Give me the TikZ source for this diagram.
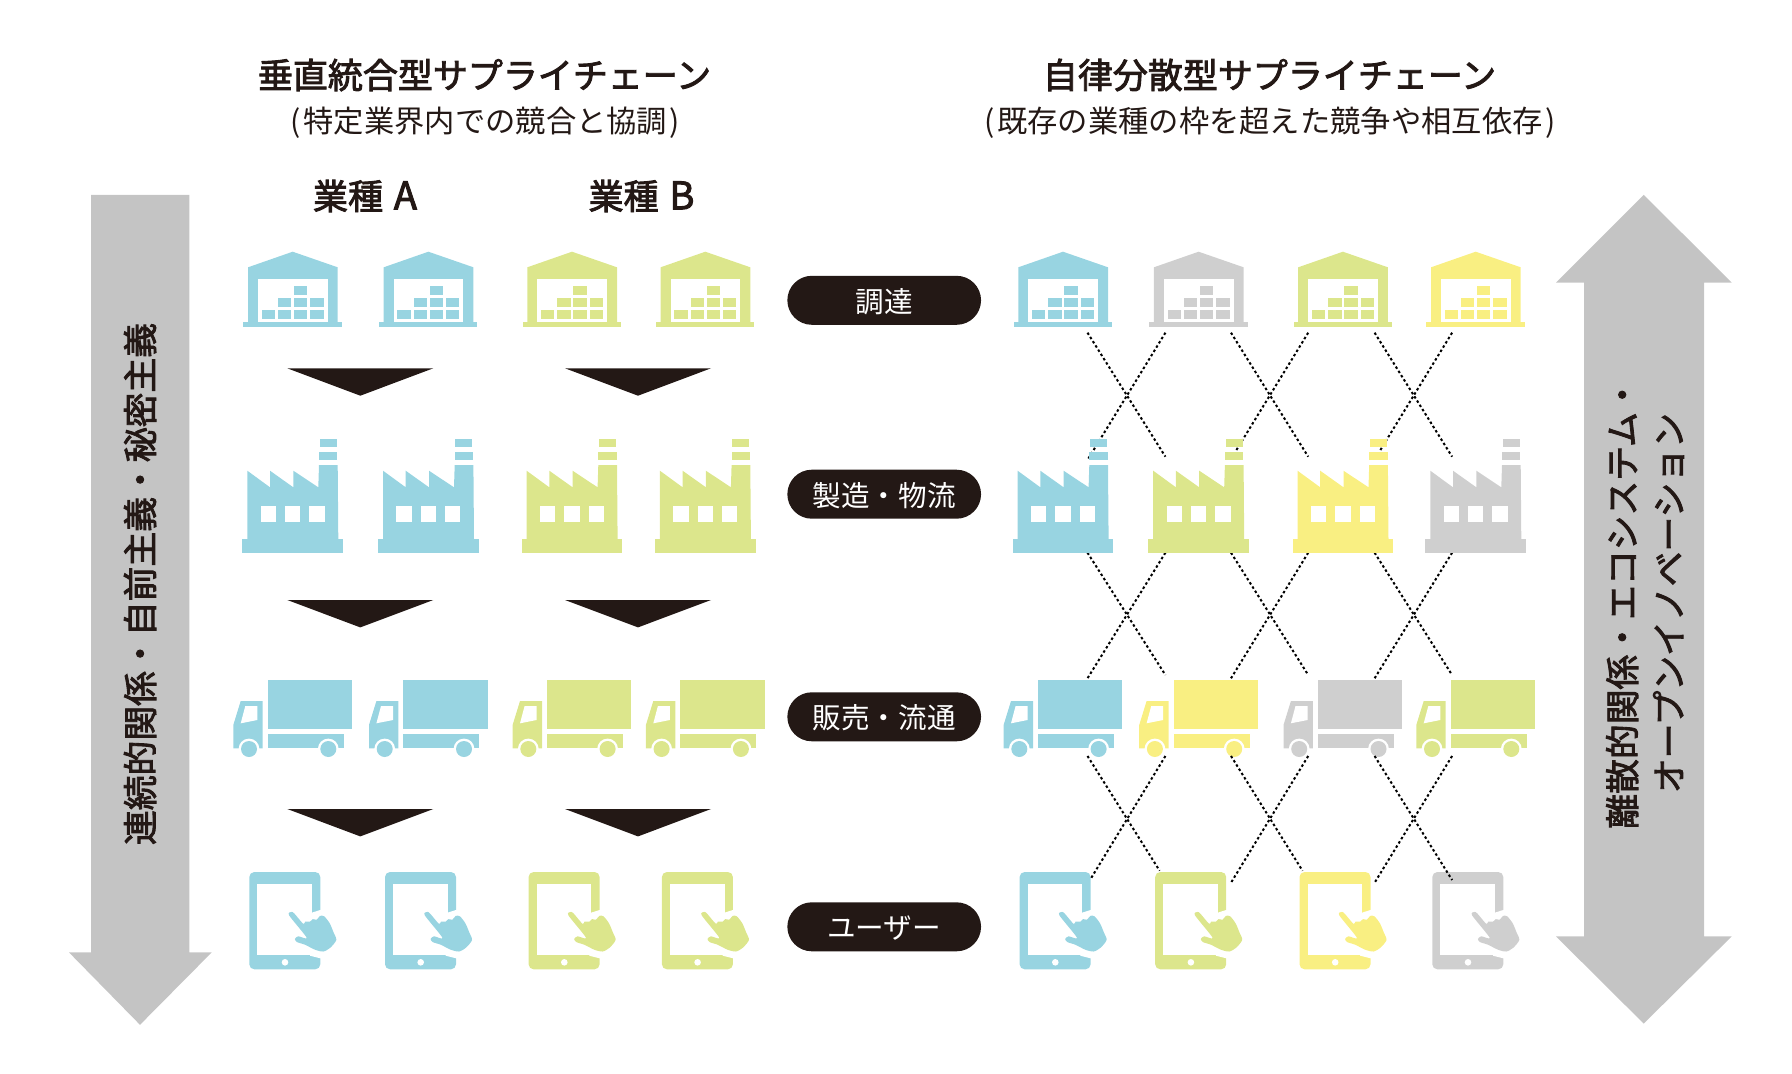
\documentclass[tikz,border=0pt]{standalone}
\usepackage{fontspec}
\setmainfont{Noto Sans CJK JP}
\newfontfamily\cjkmed[FakeBold=2.5]{Noto Sans CJK JP}
\usetikzlibrary{shapes.misc}
\definecolor{iconblue}{HTML}{98D4E1}
\definecolor{icongreen}{HTML}{DCE68C}
\definecolor{iconyellow}{HTML}{F9EF82}
\definecolor{icongrey}{HTML}{CFCFCF}
\definecolor{arrowgrey}{HTML}{C4C4C4}
\definecolor{inkblack}{HTML}{231815}
\tikzset{
	headtext/.style={font=\fontsize{35}{40}\selectfont\cjkmed,text=inkblack,inner sep=0pt},
	subtext/.style={font=\fontsize{30.3}{36}\selectfont,text=inkblack,inner sep=0pt},
	sidetext/.style={font=\fontsize{34.8}{46.6}\selectfont\cjkmed,text=inkblack,inner sep=0pt,rotate=90,align=center},
	pill/.style={rounded rectangle,fill=inkblack,text=white,minimum width=193.7pt,minimum height=49pt,inner sep=0pt,font=\fontsize{28.6}{32}\selectfont},
	dotline/.style={line width=2pt,dash pattern=on 2.5pt off 2.5pt,color=black}
}
\newcommand{\warehouse}[3]{
	\begin{scope}[shift={(#1,#2)}]
		\fill[#3] (-49.4,-5.3) rectangle (49,0);
		\fill[#3] (-44.7,-5.3)--(-44.7,-60)--(0,-75.6)--(45,-60)--(45,-5.3)--cycle;
		\fill[white] (-34.7,-48.3) rectangle (35,-5.3);
		\foreach \col in {-31,-14.7,1.3,17.6}
			\fill[#3] (\col,-17) rectangle ++(13.4,9);
		\foreach \col in {-14.7,1.3,17.6}
			\fill[#3] (\col,-29) rectangle ++(13.4,9);
		\fill[#3] (1.3,-41.3) rectangle ++(13.4,9);
	\end{scope}
}
\newcommand{\factory}[3]{
	\begin{scope}[shift={(#1,#2)}]
		\fill[#3] (-50.4,-13.7) rectangle (50.3,0);
		\fill[#3] (-45.4,-13.7)--(-45.4,-82.3)--(-22.7,-65.7)--(-22.7,-82.3)--(0.6,-65.7)--(0.6,-82.3)--(25.6,-65.7)--(26.3,-88)--(45,-88)--(45.6,-13.7)--cycle;
		\fill[#3] (26.3,-101.3) rectangle (44.6,-93);
		\fill[#3] (27,-113.7) rectangle (44,-106.3);
		\foreach \col in {-32,-7.7,16.6}
			\fill[white] (\col,-46.7) rectangle ++(15.4,15.4);
	\end{scope}
}
\newcommand{\truck}[3]{
	\begin{scope}[shift={(#1,#2)}]
		\fill[#3] (-25,-69) rectangle (59.3,-20);
		\fill[#3] (-25,-14.7) rectangle (51,-0.7);
		\fill[#3] (-59.4,-0.7)--(-59.4,-24)--(-52,-48)--(-30,-48)--(-30,-0.7)--cycle;
		\fill[white] (-52,-25.7)--(-47.4,-43)--(-35.4,-43)--(-35.4,-29)--cycle;
		\foreach \col in {-43.7,35.6}{
			\fill[white] (\col,0) circle (10.4);
			\fill[#3] (\col,0) circle (8);
		}
	\end{scope}
}
\newcommand{\tablet}[3]{
	\begin{scope}[shift={(#1,#2)}]
		\fill[#3,rounded corners=5pt] (-43.4,-97.3) rectangle (27.6,0);
		\fill[white] (-35.4,-85) rectangle (19.3,-14.3);
		\fill[white] (19,-56.6)--(28.5,-59.6)--(28.5,-10.8)--(17.3,-13.6)--(17.3,-20)--cycle;
		\fill[white] (-7.7,-7) circle (3.3);
		\fill[#3] plot[smooth cycle,tension=0.45] coordinates {(-3.6,-54) (-1,-57.4) (1.8,-55.6) (10.6,-45.4) (12.6,-47.8) (17.3,-47.6) (20,-50.2) (24,-49.6) (27.3,-53.4) (31.5,-53) (37,-46) (41,-36.6) (43.6,-29.3) (37.6,-21.6) (30.6,-17.8) (22.3,-19.6) (12.3,-24.6) (4.4,-27.2) (2.2,-30.3) (5.6,-33) (14,-31.6)};
	\end{scope}
}
\begin{document}
\begin{tikzpicture}[x=1pt,y=-1pt]
	\useasboundingbox (0,0) rectangle (1792,1074);
	% big arrows
	\fill[arrowgrey] (91,194.8)--(189.3,194.8)--(189.3,952.4)--(211.7,952.4)--(140,1024.8)--(69,952.4)--(91,952.4)--cycle;
	\fill[arrowgrey] (1643.7,194.8)--(1731.7,282.6)--(1704,282.6)--(1704,936.4)--(1731.7,936.4)--(1643.7,1023.6)--(1556,936.4)--(1584,936.4)--(1584,282.6)--(1556,282.6)--cycle;
	\node[sidetext] (sideleft) at (140,584) {連続的関係・自前主義・秘密主義};
	\node[sidetext] (sideright) at (1645,603) {離散的関係・エコシステム・\\オープンイノベーション};
	% titles
	\node[headtext] (titleleft) at (484.5,75) {垂直統合型サプライチェーン};
	\node[subtext] (subleft) at (485.5,122.5) {(\hspace{2.5pt}特定業界内での競合と協調\hspace{2.5pt})};
	\node[headtext] (titleright) at (1269.5,75) {自律分散型サプライチェーン};
	\node[subtext] (subright) at (1270,122.5) {(\hspace{2.5pt}既存の業種の枠を超えた競争や相互依存\hspace{2.5pt})};
	\node[headtext] (kindA) at (365,196) {業種\hspace{3pt} {\fontsize{38}{40}\selectfont A}};
	\node[headtext] (kindB) at (641.5,196) {業種\hspace{3pt} {\fontsize{38}{40}\selectfont B}};
	% dotted links, under the icons
	\foreach \n/\xa/\ya/\xb/\yb in {
		a/1087.5/332.7/1165.4/456.7, b/1165.4/332.7/1087.5/460,
		c/1231/332.7/1308.2/456.7, d/1308.2/332.7/1236.4/450,
		e/1374.6/332.7/1452.1/456.7, f/1452.1/332.7/1380.4/450,
		g/1087.5/552.7/1165.4/675, h/1165.4/552.7/1087.5/678.3,
		i/1231/552.7/1308.2/675, j/1308.2/552.7/1231/678.3,
		k/1374.6/552.7/1452.1/675, l/1452.1/552.7/1374.6/678.3}{
		\coordinate (from\n) at (\xa,\ya);
		\coordinate (to\n) at (\xb,\yb);
		\draw[dotline] (from\n)--(to\n);
	}
	% left side
	\foreach \x/\c in {292.7/iconblue,428.4/iconblue,572/icongreen,705.3/icongreen}{
		\warehouse{\x}{327.3}{\c}
		\factory{\x}{553}{\c}
		\truck{\x}{749}{\c}
		\tablet{\x}{969.3}{\c}
	}
	% right side
	\foreach \x/\c/\d/\e/\f in {
		1063/iconblue/iconblue/iconblue/iconblue,
		1198.6/icongrey/icongreen/iconyellow/icongreen,
		1342.9/icongreen/iconyellow/icongrey/iconyellow,
		1475.7/iconyellow/icongrey/icongreen/icongrey}{
		\warehouse{\x}{327.3}{\c}
		\factory{\x}{553}{\d}
		\truck{\x}{749}{\e}
		\tablet{\x}{969.3}{\f}
	}
	% last row of links, over the icons
	\foreach \n/\xa/\ya/\xb/\yb in {
		m/1087.5/756/1159.6/870.7, n/1165.4/756/1091/878.3,
		o/1231/756/1302.5/870.7, p/1308.2/756/1231/882.7,
		q/1374.6/756/1452.1/880, r/1452.1/756/1374.6/882.7}{
		\coordinate (from\n) at (\xa,\ya);
		\coordinate (to\n) at (\xb,\yb);
		\draw[dotline] (from\n)--(to\n);
	}
	% black triangles
	\foreach \x in {360.3,638}
		\foreach \y in {368.3,600,809}
			\fill[inkblack] (\x-73,\y)--(\x+73,\y)--(\x,\y+27.4)--cycle;
	% stage labels
	\node[pill,text depth=-1pt] (stageone) at (884.2,300.3) {調達};
	\node[pill,text depth=-1pt] (stagetwo) at (884.2,494.2) {製造・物流};
	\node[pill,text depth=-1pt] (stagethree) at (884.2,716.8) {販売・流通};
	\node[pill,text depth=-1pt] (stagefour) at (884.2,926.8) {ユーザー};
\end{tikzpicture}
\end{document}
